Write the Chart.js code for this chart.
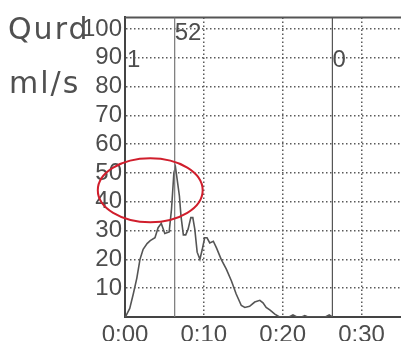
<!DOCTYPE html>
<html>
<head>
<meta charset="utf-8">
<script src="https://cdn.jsdelivr.net/npm/chart.js@4/dist/chart.umd.min.js"></script>
<style>
  html, body { margin: 0; padding: 0; background: #fff; }
  #wrap { width: 401px; height: 341px; }
</style>
</head>
<body>
<div id="wrap"><canvas id="flowChart" width="401" height="341"></canvas></div>
<script>
// ── Data ──────────────────────────────────────────────────────────────────────

const timeSec = [0, 0.1, 0.6, 1.05, 1.5, 1.9, 2.3, 2.8, 3.2, 3.8, 4.2, 4.6, 5.05, 5.6, 5.9, 6.2, 6.4, 6.6, 6.9, 7.1,
    7.4, 7.7, 8.0, 8.35, 8.6, 8.85, 9.15, 9.5, 9.8, 10.1, 10.4, 10.75, 11.2, 11.6, 12.2, 12.85, 13.5, 14.1, 14.75,
    15.2, 15.8, 16.45, 17.1, 17.5, 17.9, 18.4, 19.0, 19.6, 20.8, 21.3, 21.8, 22.4, 22.8, 23.2, 25.4, 25.9, 26.3];
const flowRate = [0, 0.3, 3, 8, 13.5, 20, 23.5, 25.5, 26.5, 27.5, 31, 32.5, 29, 29.5, 37.5, 50, 52, 48, 42, 35,
    28.5, 28.5, 30.5, 34.5, 34.5, 30.5, 22.5, 20, 23.5, 27.5, 27.5, 25.7, 26.3, 24, 20, 16.6, 12.5, 8, 4,
    3.3, 3.7, 5.2, 5.8, 4.9, 3.3, 2.4, 1, 0, 0, 0.7, 0, 0, 0.5, 0, 0, 0.7, 0];

const xTicks = [0, 10, 20, 30];
const yTicks = [0, 10, 20, 30, 40, 50, 60, 70, 80, 90, 100];
const xMax = 35;
const yMax = 104;

const markerTimes = [0, 6.3, 26.3];
const markerLabels = ['1', '52', '0'];

const titleLines = ['Qurd', 'ml/s'];

// highlighted region (data units): centre time, centre flow, half-width s, half-height ml/s
const highlight = [3.2, 44, 6.65, 11.1];

// ── Helpers ───────────────────────────────────────────────────────────────────

function fmtTime(v) {
    return '0:' + String(v).padStart(2, '0');
}

const tickFont = { family: "'Liberation Sans', Arial, sans-serif", size: 24 };
const gridColor = '#5a5a5a';

// ── Plugin: frame, markers, titles, ellipse ───────────────────────────────────

const overlayPlugin = {
    id: 'overlay',
    beforeDraw(chart) {
        const { ctx } = chart;
        ctx.save();
        ctx.fillStyle = '#fff';
        ctx.fillRect(0, 0, chart.width, chart.height);
        ctx.restore();
    },
    afterDraw(chart) {
        const { ctx, chartArea: area, scales: { x, y } } = chart;
        ctx.save();

        // top frame line
        ctx.strokeStyle = '#555';
        ctx.lineWidth = 2;
        ctx.beginPath();
        ctx.moveTo(area.left, area.top);
        ctx.lineTo(area.right, area.top);
        ctx.stroke();

        // event markers
        ctx.font = "24px 'Liberation Sans', Arial, sans-serif";
        ctx.fillStyle = '#4d4d4d';
        ctx.textBaseline = 'top';
        markerTimes.forEach((t, i) => {
            const px = x.getPixelForValue(t);
            if (t > 0) {
                ctx.strokeStyle = i === 1 ? '#777' : '#555';
                ctx.lineWidth = 1.2;
                ctx.beginPath();
                ctx.moveTo(px, area.top);
                ctx.lineTo(px, area.bottom);
                ctx.stroke();
            }
            const ty = i === 1 ? area.top + 4 : area.top + 31;
            ctx.fillText(markerLabels[i], px + (t === 0 ? 2 : 0), ty);
        });

        // unit titles
        ctx.font = "30px 'DejaVu Sans', sans-serif";
        ctx.fillStyle = '#505050';
        ctx.textBaseline = 'alphabetic';
        ctx.letterSpacing = '2px';
        ctx.fillText(titleLines[0], 8, 39);
        ctx.fillText(titleLines[1], 9, 93);
        ctx.letterSpacing = '0px';

        // highlight ellipse
        const cx = x.getPixelForValue(highlight[0]);
        const cy = y.getPixelForValue(highlight[1]);
        const rx = x.getPixelForValue(highlight[0] + highlight[2]) - cx;
        const ry = cy - y.getPixelForValue(highlight[1] + highlight[3]);
        ctx.strokeStyle = '#d01e2c';
        ctx.lineWidth = 2;
        ctx.beginPath();
        ctx.ellipse(cx, cy, rx, ry, 0, 0, Math.PI * 2);
        ctx.stroke();

        ctx.restore();
    },
};

// ── Chart ─────────────────────────────────────────────────────────────────────

new Chart(document.getElementById('flowChart'), {
    type: 'line',
    data: {
        datasets: [{
            data: timeSec.map((t, i) => ({ x: t, y: flowRate[i] })),
            borderColor: '#555',
            borderWidth: 1.6,
            pointRadius: 0,
            tension: 0,
            fill: false,
        }],
    },
    options: {
        responsive: false,
        animation: false,
        layout: { padding: { top: 12, right: 0, left: 0, bottom: 0 } },
        plugins: { legend: { display: false }, tooltip: { enabled: false } },
        scales: {
            x: {
                type: 'linear',
                min: 0,
                max: xMax,
                afterBuildTicks(scale) { scale.ticks = xTicks.map((v) => ({ value: v })); },
                afterFit(scale) { scale.height = 24; },
                ticks: {
                    callback: (v) => fmtTime(v),
                    font: tickFont,
                    color: '#4d4d4d',
                    padding: 4,
                    maxRotation: 0,
                    autoSkip: false,
                },
                grid: {
                    color: (ctx) => (ctx.tick && ctx.tick.value === 0 ? 'rgba(0,0,0,0)' : gridColor),
                    lineWidth: 1.5,
                    drawTicks: false,
                },
                border: { display: true, color: '#444', width: 2, dash: [1.5, 2.5] },
            },
            y: {
                min: 0,
                max: yMax,
                afterBuildTicks(scale) { scale.ticks = yTicks.map((v) => ({ value: v })); },
                afterFit(scale) { scale.width = 125; },
                ticks: {
                    callback: (v) => (v === 0 ? '' : String(v)),
                    font: tickFont,
                    color: '#4d4d4d',
                    padding: 3,
                    autoSkip: false,
                },
                grid: {
                    color: (ctx) => (ctx.tick && ctx.tick.value === 0 ? 'rgba(0,0,0,0)' : gridColor),
                    lineWidth: 1.5,
                    drawTicks: false,
                },
                border: { display: true, color: '#444', width: 2, dash: [1.5, 2.5] },
            },
        },
    },
    plugins: [overlayPlugin],
});
</script>
</body>
</html>
